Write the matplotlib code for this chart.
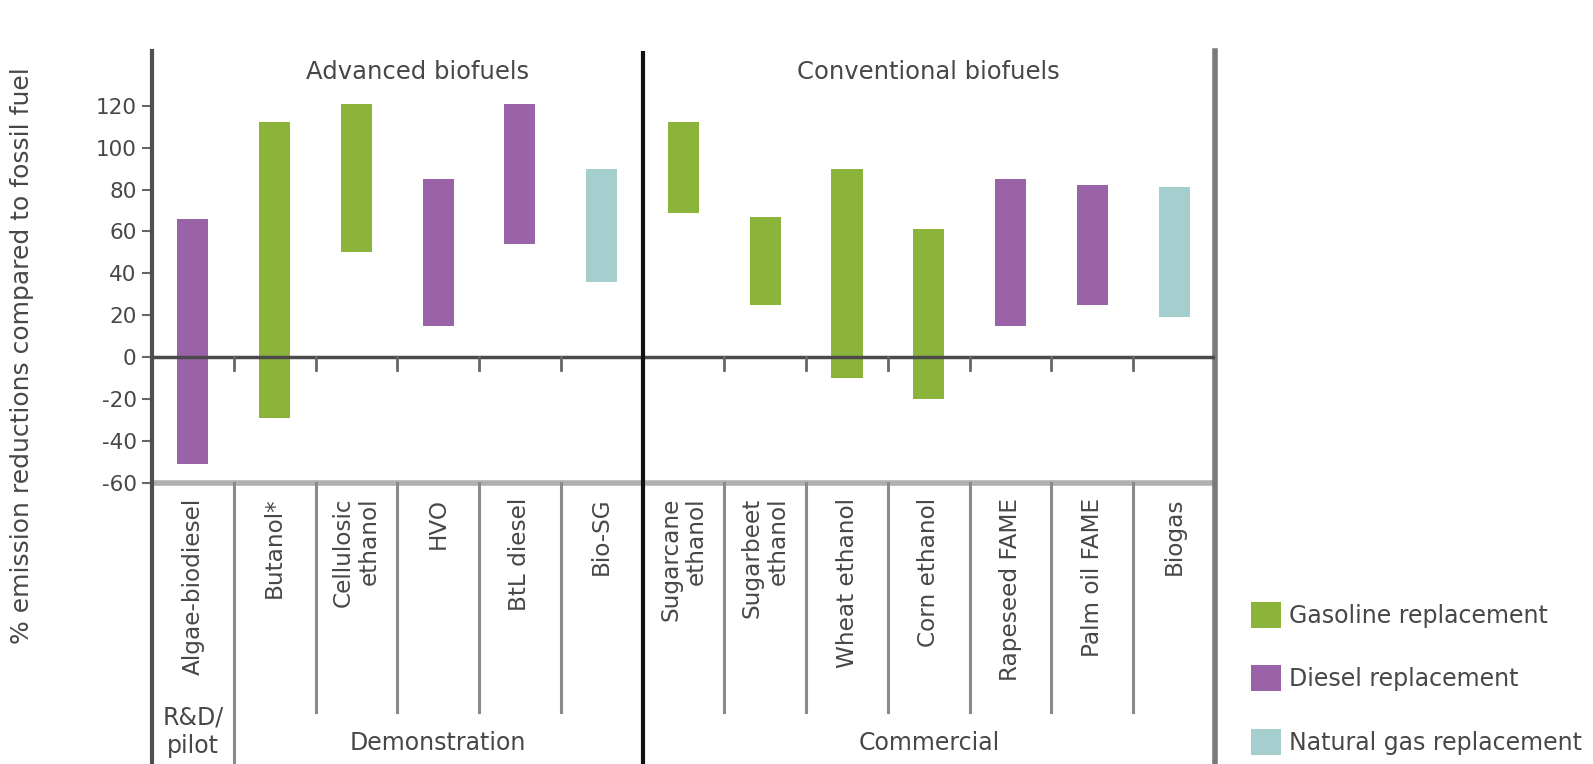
import matplotlib
matplotlib.use("Agg")
import matplotlib.pyplot as plt
from matplotlib.patches import Patch

plt.rcParams["axes.unicode_minus"] = False

# categories, left to right
categories = [
    "Algae-biodiesel", "Butanol*", "Cellulosic\nethanol", "HVO", "BtL diesel", "Bio-SG",
    "Sugarcane\nethanol", "Sugarbeet\nethanol", "Wheat ethanol", "Corn ethanol",
    "Rapeseed FAME", "Palm oil FAME", "Biogas",
]
fuel_type = ["diesel", "gasoline", "gasoline", "diesel", "diesel", "gas",
             "gasoline", "gasoline", "gasoline", "gasoline", "diesel", "diesel", "gas"]
low = [-51, -29, 50, 15, 54, 36, 69, 25, -10, -20, 15, 25, 19]
high = [66, 112, 121, 85, 121, 90, 112, 67, 90, 61, 85, 82, 81]

stages = ["R&D/\npilot", "Demonstration", "Commercial"]
stage_bounds = [(0, 1), (1, 6), (6, 13)]
groups = ["Advanced biofuels", "Conventional biofuels"]
group_x = [3.25, 9.5]
yticks = [-60, -40, -20, 0, 20, 40, 60, 80, 100, 120]

colors = {"gasoline": "#8cb43a", "diesel": "#9a63a8", "gas": "#a5cfce"}
legend_labels = {"gasoline": "Gasoline replacement", "diesel": "Diesel replacement",
                 "gas": "Natural gas replacement"}
text_col = "#474747"

fig = plt.figure(figsize=(15.93, 7.64), dpi=100)
ax = fig.add_axes([0.0954, 0.0, 0.6673, 0.933])

n = len(categories)
xs = [i + 0.5 for i in range(n)]
ax.bar(xs, [h - l for h, l in zip(high, low)], bottom=low, width=0.38,
       color=[colors[t] for t in fuel_type], zorder=3)

ax.set_xlim(0, n)
ax.set_ylim(-194, 146)
ax.set_xticks([])
ax.set_yticks(yticks)
ax.tick_params(axis="y", length=7, width=1.5, color="#666666", labelsize=15.5,
               labelcolor=text_col, pad=4)
for s in ["top", "bottom"]:
    ax.spines[s].set_visible(False)
ax.spines["left"].set_color("#505050")
ax.spines["left"].set_linewidth(3)
ax.spines["right"].set_color("#7a7a7a")
ax.spines["right"].set_linewidth(4)

# zero line and baseline
ax.axhline(0, color="#4a4a4a", lw=2.5, zorder=4)
ax.axhline(-60, color="#b0b0b0", lw=4, zorder=2)
ax.axvline(6, color="#111111", lw=3, zorder=5)

# category boundary ticks and separators
for b in range(1, n):
    if b == 6:
        continue
    ax.plot([b, b], [0, -6], color="#666666", lw=2, zorder=4)
    bottom = -194 if b == 1 else -169
    ax.plot([b, b], [-60, bottom], color="#8a8a8a", lw=2.2, zorder=2)

# category labels
for x, lab in zip(xs, categories):
    ax.text(x, -67, lab, rotation=90, ha="center", va="top", multialignment="right",
            fontsize=16.7, color=text_col, linespacing=1.15)

# stage labels
for lab, (a, b) in zip(stages, stage_bounds):
    ax.text((a + b) / 2, -184 if "\n" not in lab else -178.5, lab, ha="center",
            va="center", fontsize=17, color=text_col, linespacing=1.25)

# group headers
for lab, gx in zip(groups, group_x):
    ax.text(gx, 136, lab, ha="center", va="center", fontsize=17.5, color=text_col)

fig.text(0.014, 0.535, "% emission reductions compared to fossil fuel", rotation=90,
         ha="center", va="center", fontsize=18, color=text_col)

handles = [Patch(facecolor=colors[k], edgecolor="none") for k in legend_labels]
fig.legend(handles, list(legend_labels.values()), loc="lower left",
           bbox_to_anchor=(0.785, 0.012), frameon=False, fontsize=17,
           handlelength=1.3, handleheight=1.3, labelspacing=1.6,
           handletextpad=0.35, borderpad=0, borderaxespad=0, labelcolor=text_col)

fig.savefig("out.png", dpi=100)
